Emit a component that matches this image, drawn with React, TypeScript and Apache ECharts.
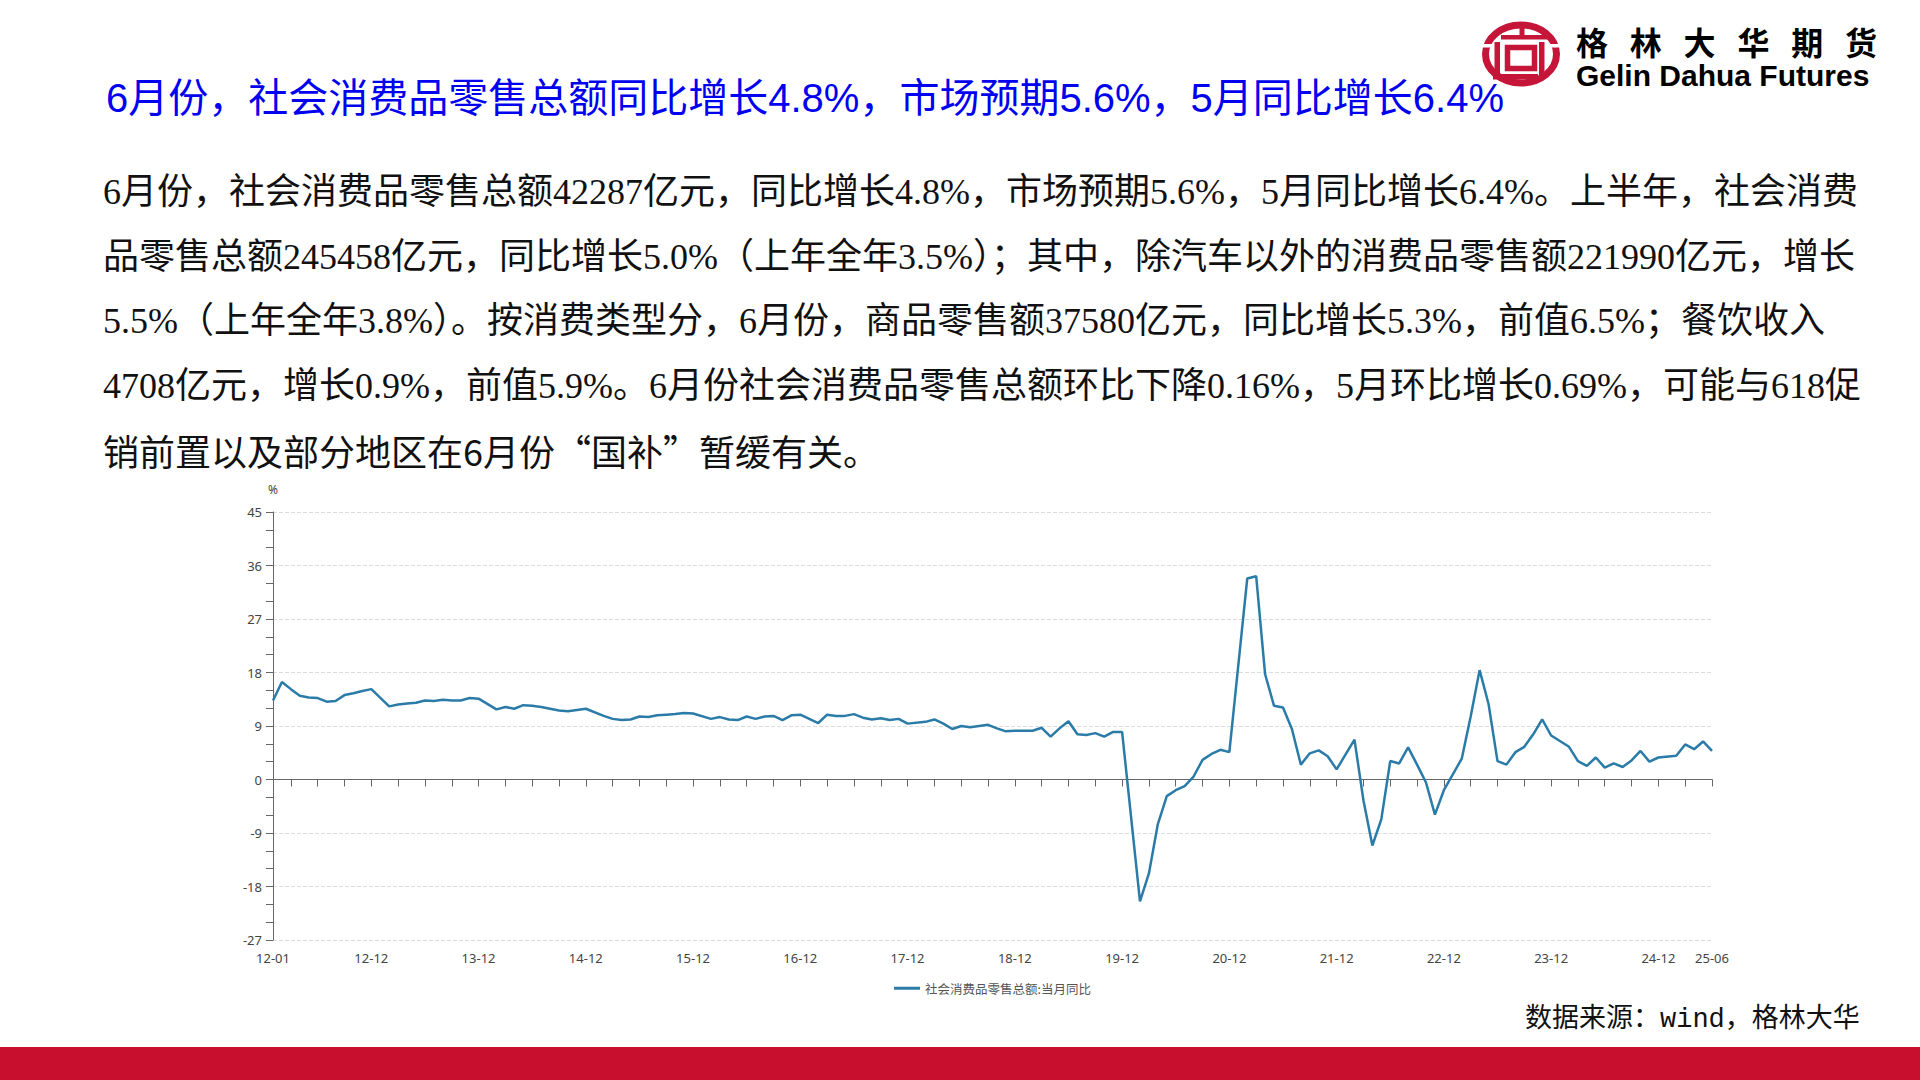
import React, { useEffect, useRef } from "react";
import * as echarts from "echarts";

// ---------- data ----------
const years = [2012, 2013, 2014, 2015, 2016, 2017, 2018, 2019, 2020, 2021, 2022, 2023, 2024, 2025];
const y2012 = [13.3, 16.4, 15.2, 14.1, 13.8, 13.7, 13.1, 13.2, 14.2, 14.5, 14.9, 15.2];
const y2013 = [null, 12.3, 12.6, 12.8, 12.9, 13.3, 13.2, 13.4, 13.3, 13.3, 13.7, 13.6];
const y2014 = [null, 11.8, 12.2, 11.9, 12.5, 12.4, 12.2, 11.9, 11.6, 11.5, 11.7, 11.9];
const y2015 = [null, 10.7, 10.2, 10.0, 10.1, 10.6, 10.5, 10.8, 10.9, 11.0, 11.2, 11.1];
const y2016 = [null, 10.2, 10.5, 10.1, 10.0, 10.6, 10.2, 10.6, 10.7, 10.0, 10.8, 10.9];
const y2017 = [null, 9.5, 10.9, 10.7, 10.7, 11.0, 10.4, 10.1, 10.3, 10.0, 10.2, 9.4];
const y2018 = [null, 9.7, 10.1, 9.4, 8.5, 9.0, 8.8, 9.0, 9.2, 8.6, 8.1, 8.2];
const y2019 = [null, 8.2, 8.7, 7.2, 8.6, 9.8, 7.6, 7.5, 7.8, 7.2, 8.0, 8.0];
const y2020 = [null, -20.5, -15.8, -7.5, -2.8, -1.8, -1.1, 0.5, 3.3, 4.3, 5.0, 4.6];
const y2021 = [null, 33.8, 34.2, 17.7, 12.4, 12.1, 8.5, 2.5, 4.4, 4.9, 3.9, 1.7];
const y2022 = [null, 6.7, -3.5, -11.1, -6.7, 3.1, 2.7, 5.4, 2.5, -0.5, -5.9, -1.8];
const y2023 = [null, 3.5, 10.6, 18.4, 12.7, 3.1, 2.5, 4.6, 5.5, 7.6, 10.1, 7.4];
const y2024 = [null, 5.5, 3.1, 2.3, 3.7, 2.0, 2.7, 2.1, 3.2, 4.8, 3.0, 3.7];
const y2025 = [null, 4.0, 5.9, 5.1, 6.4, 4.8];
const yearValues = [y2012, y2013, y2014, y2015, y2016, y2017, y2018, y2019, y2020, y2021, y2022, y2023, y2024, y2025];

const xTickLabels = ["12-01", "12-12", "13-12", "14-12", "15-12", "16-12", "17-12", "18-12", "19-12", "20-12", "21-12", "22-12", "23-12", "24-12", "25-06"];
const yMin = -27;
const yMax = 45;
const yStep = 9;

const seriesName = "社会消费品零售总额:当月同比";
const titleText = "6月份，社会消费品零售总额同比增长4.8%，市场预期5.6%，5月同比增长6.4%";
const bodyLines = [
  "6月份，社会消费品零售总额42287亿元，同比增长4.8%，市场预期5.6%，5月同比增长6.4%。上半年，社会消费",
  "品零售总额245458亿元，同比增长5.0%（上年全年3.5%）；其中，除汽车以外的消费品零售额221990亿元，增长",
  "5.5%（上年全年3.8%）。按消费类型分，6月份，商品零售额37580亿元，同比增长5.3%，前值6.5%；餐饮收入",
  "4708亿元，增长0.9%，前值5.9%。6月份社会消费品零售总额环比下降0.16%，5月环比增长0.69%，可能与618促",
  "销前置以及部分地区在6月份“国补”暂缓有关。",
];
const sourceText = "数据来源：wind，格林大华";
const logoCn = "格   林   大   华   期   货";
const logoEn = "Gelin Dahua Futures";

// build category list
const categories: string[] = [];
const values: (number | null)[] = [];
yearValues.forEach((arr, i) => {
  const yy = String(years[i]).slice(2);
  arr.forEach((v, m) => {
    categories.push(`${yy}-${String(m + 1).padStart(2, "0")}`);
    values.push(v);
  });
});

const RED = "#C8102E";
const LOGO_RED = "#C5163A";
const LINE = "#2B7BA8";
const CJK = "'Noto Sans CJK SC', sans-serif";

export default function App() {
  const ref = useRef<HTMLDivElement>(null);
  useEffect(() => {
    if (!ref.current) return;
    const chart = echarts.init(ref.current, null, { renderer: "svg" });

    const graphics: any[] = [];
    // bottom red bar
    graphics.push({ type: "rect", shape: { x: 0, y: 1047, width: 1920, height: 33 }, style: { fill: RED } });
    // title
    graphics.push({
      type: "text", x: 106, y: 98,
      style: { text: titleText, fontSize: 40, fontFamily: "'Liberation Sans', " + CJK, fill: "#0000F0", verticalAlign: "middle", align: "left" },
    });
    // body
    bodyLines.forEach((t, i) => {
      const last = i === bodyLines.length - 1;
      graphics.push({
        type: "text", x: 103, y: 192 + i * 64.6,
        style: {
          text: t, fontSize: 36,
          fontFamily: last ? CJK : "'Liberation Serif', " + CJK,
          fill: "#111", verticalAlign: "middle", align: "left",
        },
      });
    });
    // source
    graphics.push({
      type: "text", x: 1525, y: 1020,
      style: { text: sourceText, fontSize: 27, fontFamily: "'Liberation Mono', " + CJK, fill: "#111", verticalAlign: "middle", align: "left" },
    });
    // logo text
    graphics.push({
      type: "text", x: 1576, y: 41,
      style: { text: logoCn, fontSize: 32, fontWeight: "bold", fontFamily: CJK, fill: "#000", verticalAlign: "middle", align: "left" },
    });
    graphics.push({
      type: "text", x: 1576, y: 75,
      style: { text: logoEn, fontSize: 30, fontWeight: "bold", fontFamily: "'Liberation Sans', Arial, sans-serif", fill: "#000", verticalAlign: "middle", align: "left" },
    });
    // logo emblem
    graphics.push({ type: "ellipse", shape: { cx: 1521, cy: 54, rx: 35.5, ry: 29 }, style: { fill: "none", stroke: LOGO_RED, lineWidth: 7 } });
    graphics.push({ type: "rect", shape: { x: 1476, y: 44, width: 20, height: 3.5 }, style: { fill: "#fff" } });
    graphics.push({ type: "rect", shape: { x: 1546, y: 44, width: 20, height: 3.5 }, style: { fill: "#fff" } });
    graphics.push({ type: "rect", shape: { x: 1519.5, y: 22, width: 5, height: 15 }, style: { fill: LOGO_RED } });
    graphics.push({ type: "rect", shape: { x: 1501, y: 35, width: 47, height: 4.5 }, style: { fill: LOGO_RED } });
    graphics.push({ type: "rect", shape: { x: 1494.5, y: 42, width: 5.5, height: 33 }, style: { fill: LOGO_RED } });
    graphics.push({ type: "rect", shape: { x: 1539, y: 42, width: 5.5, height: 36 }, style: { fill: LOGO_RED } });
    graphics.push({ type: "rect", shape: { x: 1493, y: 74, width: 45, height: 5.5 }, style: { fill: LOGO_RED } });
    graphics.push({ type: "rect", shape: { x: 1507.5, y: 47.5, width: 27, height: 21 }, style: { fill: "none", stroke: LOGO_RED, lineWidth: 5.5 } });

    chart.setOption({
      animation: false,
      backgroundColor: "#ffffff",
      grid: { left: 273, right: 208, top: 512, bottom: 140 },
      legend: {
        left: 889, top: 977, itemWidth: 26, itemHeight: 3,
        icon: "path://M0,0H26V3H0Z",
        textStyle: { fontSize: 12.5, color: "#555", fontFamily: CJK },
        data: [seriesName],
      },
      xAxis: {
        type: "category",
        data: categories,
        boundaryGap: false,
        axisLine: { show: true, lineStyle: { color: "#666", width: 1 } },
        axisTick: {
          show: true, length: 7, lineStyle: { color: "#666" },
          interval: (i: number, v: string) => i === 0 || Number(v.slice(3)) % 3 === 0,
        },
        axisLabel: {
          interval: (i: number, v: string) => xTickLabels.includes(v),
          fontSize: 13, color: "#444", margin: 11, fontFamily: "'Noto Sans', sans-serif",
        },
        splitLine: { show: false },
      },
      yAxis: {
        type: "value",
        min: yMin, max: yMax, interval: yStep,
        name: "%",
        nameLocation: "end",
        nameGap: 17,
        nameTextStyle: { fontSize: 12, color: "#444", fontFamily: "'Noto Sans', sans-serif" },
        axisLine: { show: true, lineStyle: { color: "#666", width: 1 } },
        axisTick: { show: true, length: 7, lineStyle: { color: "#666" } },
        minorTick: { show: true, splitNumber: 3, length: 7, lineStyle: { color: "#666" } },
        axisLabel: { fontSize: 13, color: "#444", margin: 11, fontFamily: "'Noto Sans', sans-serif" },
        splitLine: { show: true, lineStyle: { type: "dashed", color: "#dcdcdc" } },
      },
      series: [
        {
          name: seriesName,
          type: "line",
          data: values,
          connectNulls: true,
          symbol: "none",
          lineStyle: { color: LINE, width: 2.5 },
          itemStyle: { color: LINE },
        },
      ],
      graphic: graphics,
    });
    return () => chart.dispose();
  }, []);
  return (
    <div
      ref={ref}
      style={{ position: "fixed", left: 0, top: 0, width: 1920, height: 1080, background: "#fff" }}
    />
  );
}
